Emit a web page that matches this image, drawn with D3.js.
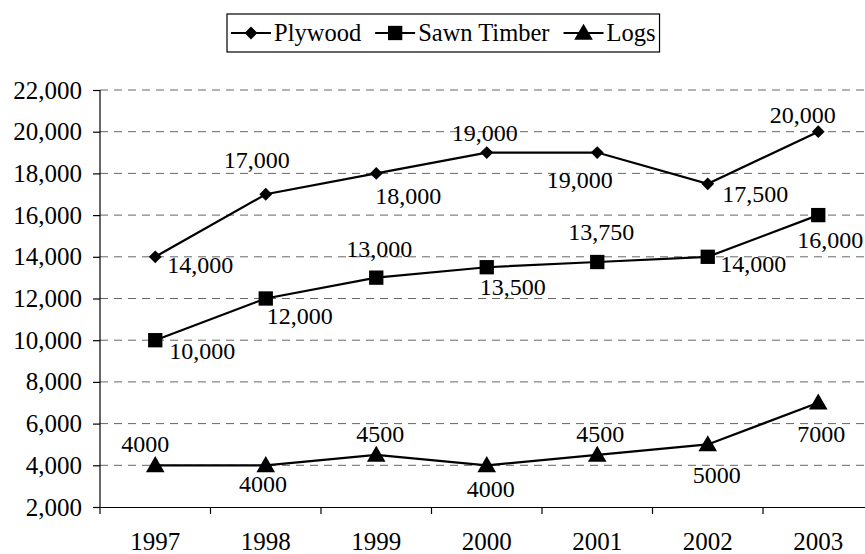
<!DOCTYPE html>
<html>
<head>
<meta charset="utf-8">
<script src="https://cdn.jsdelivr.net/npm/d3@7"></script>
<style>
  html, body { margin: 0; padding: 0; background: #fff; }
  svg { display: block; }
</style>
</head>
<body>
<svg id="chart" width="865" height="554"></svg>
<script>
// ---- data ----
const years = ["1997", "1998", "1999", "2000", "2001", "2002", "2003"];
const plywood = [14000, 17000, 18000, 19000, 19000, 17500, 20000];
const sawnTimber = [10000, 12000, 13000, 13500, 13750, 14000, 16000];
const logs = [4000, 4000, 4500, 4000, 4500, 5000, 7000];
const seriesNames = ["Plywood", "Sawn Timber", "Logs"];
const yTicks = [2000, 4000, 6000, 8000, 10000, 12000, 14000, 16000, 18000, 20000, 22000];

// ---- layout (label offsets from point: dx to text centre, dy to baseline) ----
const labelOffsets = {
  "Plywood": [[45, 16.5], [-9, -26], [32, 30.6], [-2, -12], [-17.5, 35.5], [47.5, 18], [-15.5, -9]],
  "Sawn Timber": [[47, 19], [34, 25.5], [3, -21], [26, 27.5], [4, -22], [45.5, 15], [12, 33]],
  "Logs": [[-10, -13.6], [-2.7, 26.4], [4, -13], [4, 31.5], [3, -13], [9, 39], [3, 39.5]]
};
const labelFormats = { "Plywood": d3.format(","), "Sawn Timber": d3.format(","), "Logs": d3.format("d") };

const FONT = "'Liberation Serif'";
const svg = d3.select("#chart");
const plotLeft = 100, bandW = 110.5, plotTop = 90, plotBottom = 507;
const x = d3.scaleBand().domain(years).range([plotLeft, plotLeft + bandW * years.length]);
const y = d3.scaleLinear().domain([2000, 22000]).range([plotBottom, plotTop]);
const fontSize = 24;
const axisFontSize = 25;

// gridlines
svg.append("g").selectAll("line")
  .data(yTicks.filter(d => d !== 2000))
  .join("line")
  .attr("x1", plotLeft).attr("x2", plotLeft + bandW * years.length)
  .attr("y1", d => y(d)).attr("y2", d => y(d))
  .attr("stroke", "#666").attr("stroke-width", 1)
  .attr("stroke-dasharray", "8,6");

// y axis
const yAxis = svg.append("g").attr("transform", `translate(${plotLeft},0)`)
  .call(d3.axisLeft(y).tickValues(yTicks).tickFormat(d3.format(",")).tickSize(7).tickPadding(11));
yAxis.select(".domain").attr("stroke", "#000").attr("stroke-width", 1.2).attr("d", `M0,${plotTop}V${plotBottom}`);
yAxis.selectAll(".tick line").attr("stroke", "#000").attr("stroke-width", 1.2);
yAxis.selectAll(".tick text").attr("font-size", axisFontSize).style("font-family", FONT).attr("fill", "#000");

// x axis
const xAxis = svg.append("g").attr("transform", `translate(0,${plotBottom})`)
  .call(d3.axisBottom(x).tickSize(0).tickPadding(25));
xAxis.select(".domain").attr("stroke", "#000").attr("stroke-width", 1.2);
xAxis.selectAll(".tick text").attr("font-size", axisFontSize).style("font-family", FONT).attr("fill", "#000");
svg.append("g").selectAll("line")
  .data(years)
  .join("line")
  .attr("x1", d => x(d)).attr("x2", d => x(d))
  .attr("y1", plotBottom).attr("y2", plotBottom + 7)
  .attr("stroke", "#000").attr("stroke-width", 1.2);

// markers
const markerPath = {
  "Plywood": d3.symbol().type(d3.symbolDiamond2).size(105)(),
  "Sawn Timber": d3.symbol().type(d3.symbolSquare).size(205)(),
  "Logs": d3.symbol().type(d3.symbolTriangle).size(150)()
};

const seriesData = [plywood, sawnTimber, logs];
const line = d3.line().x((d, i) => x(years[i]) + x.bandwidth() / 2).y(d => y(d));

seriesNames.forEach((name, si) => {
  const vals = seriesData[si];
  const g = svg.append("g");
  g.append("path").datum(vals).attr("d", line)
    .attr("fill", "none").attr("stroke", "#000").attr("stroke-width", 2.2);
  g.selectAll("path.m").data(vals).join("path").attr("class", "m")
    .attr("d", markerPath[name])
    .attr("transform", (d, i) => `translate(${x(years[i]) + x.bandwidth() / 2},${y(d) + (name === "Logs" ? 1.5 : 0)})`)
    .attr("fill", "#000");
  g.selectAll("text").data(vals).join("text")
    .attr("x", (d, i) => x(years[i]) + x.bandwidth() / 2 + labelOffsets[name][i][0])
    .attr("y", (d, i) => y(d) + labelOffsets[name][i][1])
    .attr("text-anchor", "middle").attr("font-size", fontSize).style("font-family", FONT).attr("fill", "#000")
    .text(d => labelFormats[name](d));
});

// legend
const leg = svg.append("g");
const legBox = leg.append("rect").attr("fill", "#fff").attr("stroke", "#000").attr("stroke-width", 1.2);
let cx = 231;
const legY = 33;
seriesNames.forEach((name, i) => {
  const segW = 40;
  leg.append("line").attr("x1", cx).attr("x2", cx + segW).attr("y1", legY).attr("y2", legY)
    .attr("stroke", "#000").attr("stroke-width", 2.2);
  leg.append("path").attr("d", markerPath[name])
    .attr("transform", `translate(${cx + segW / 2},${legY + (name === "Logs" ? 1.5 : 0)})`).attr("fill", "#000");
  const t = leg.append("text").attr("x", cx + segW + 3).attr("y", legY + 8)
    .attr("font-size", 24.5).style("font-family", FONT).attr("fill", "#000").text(name);
  cx += segW + 3 + t.node().getComputedTextLength() + 14;
});
legBox.attr("x", 227).attr("y", 14).attr("width", cx - 227 - 10).attr("height", 38);
</script>
</body>
</html>
